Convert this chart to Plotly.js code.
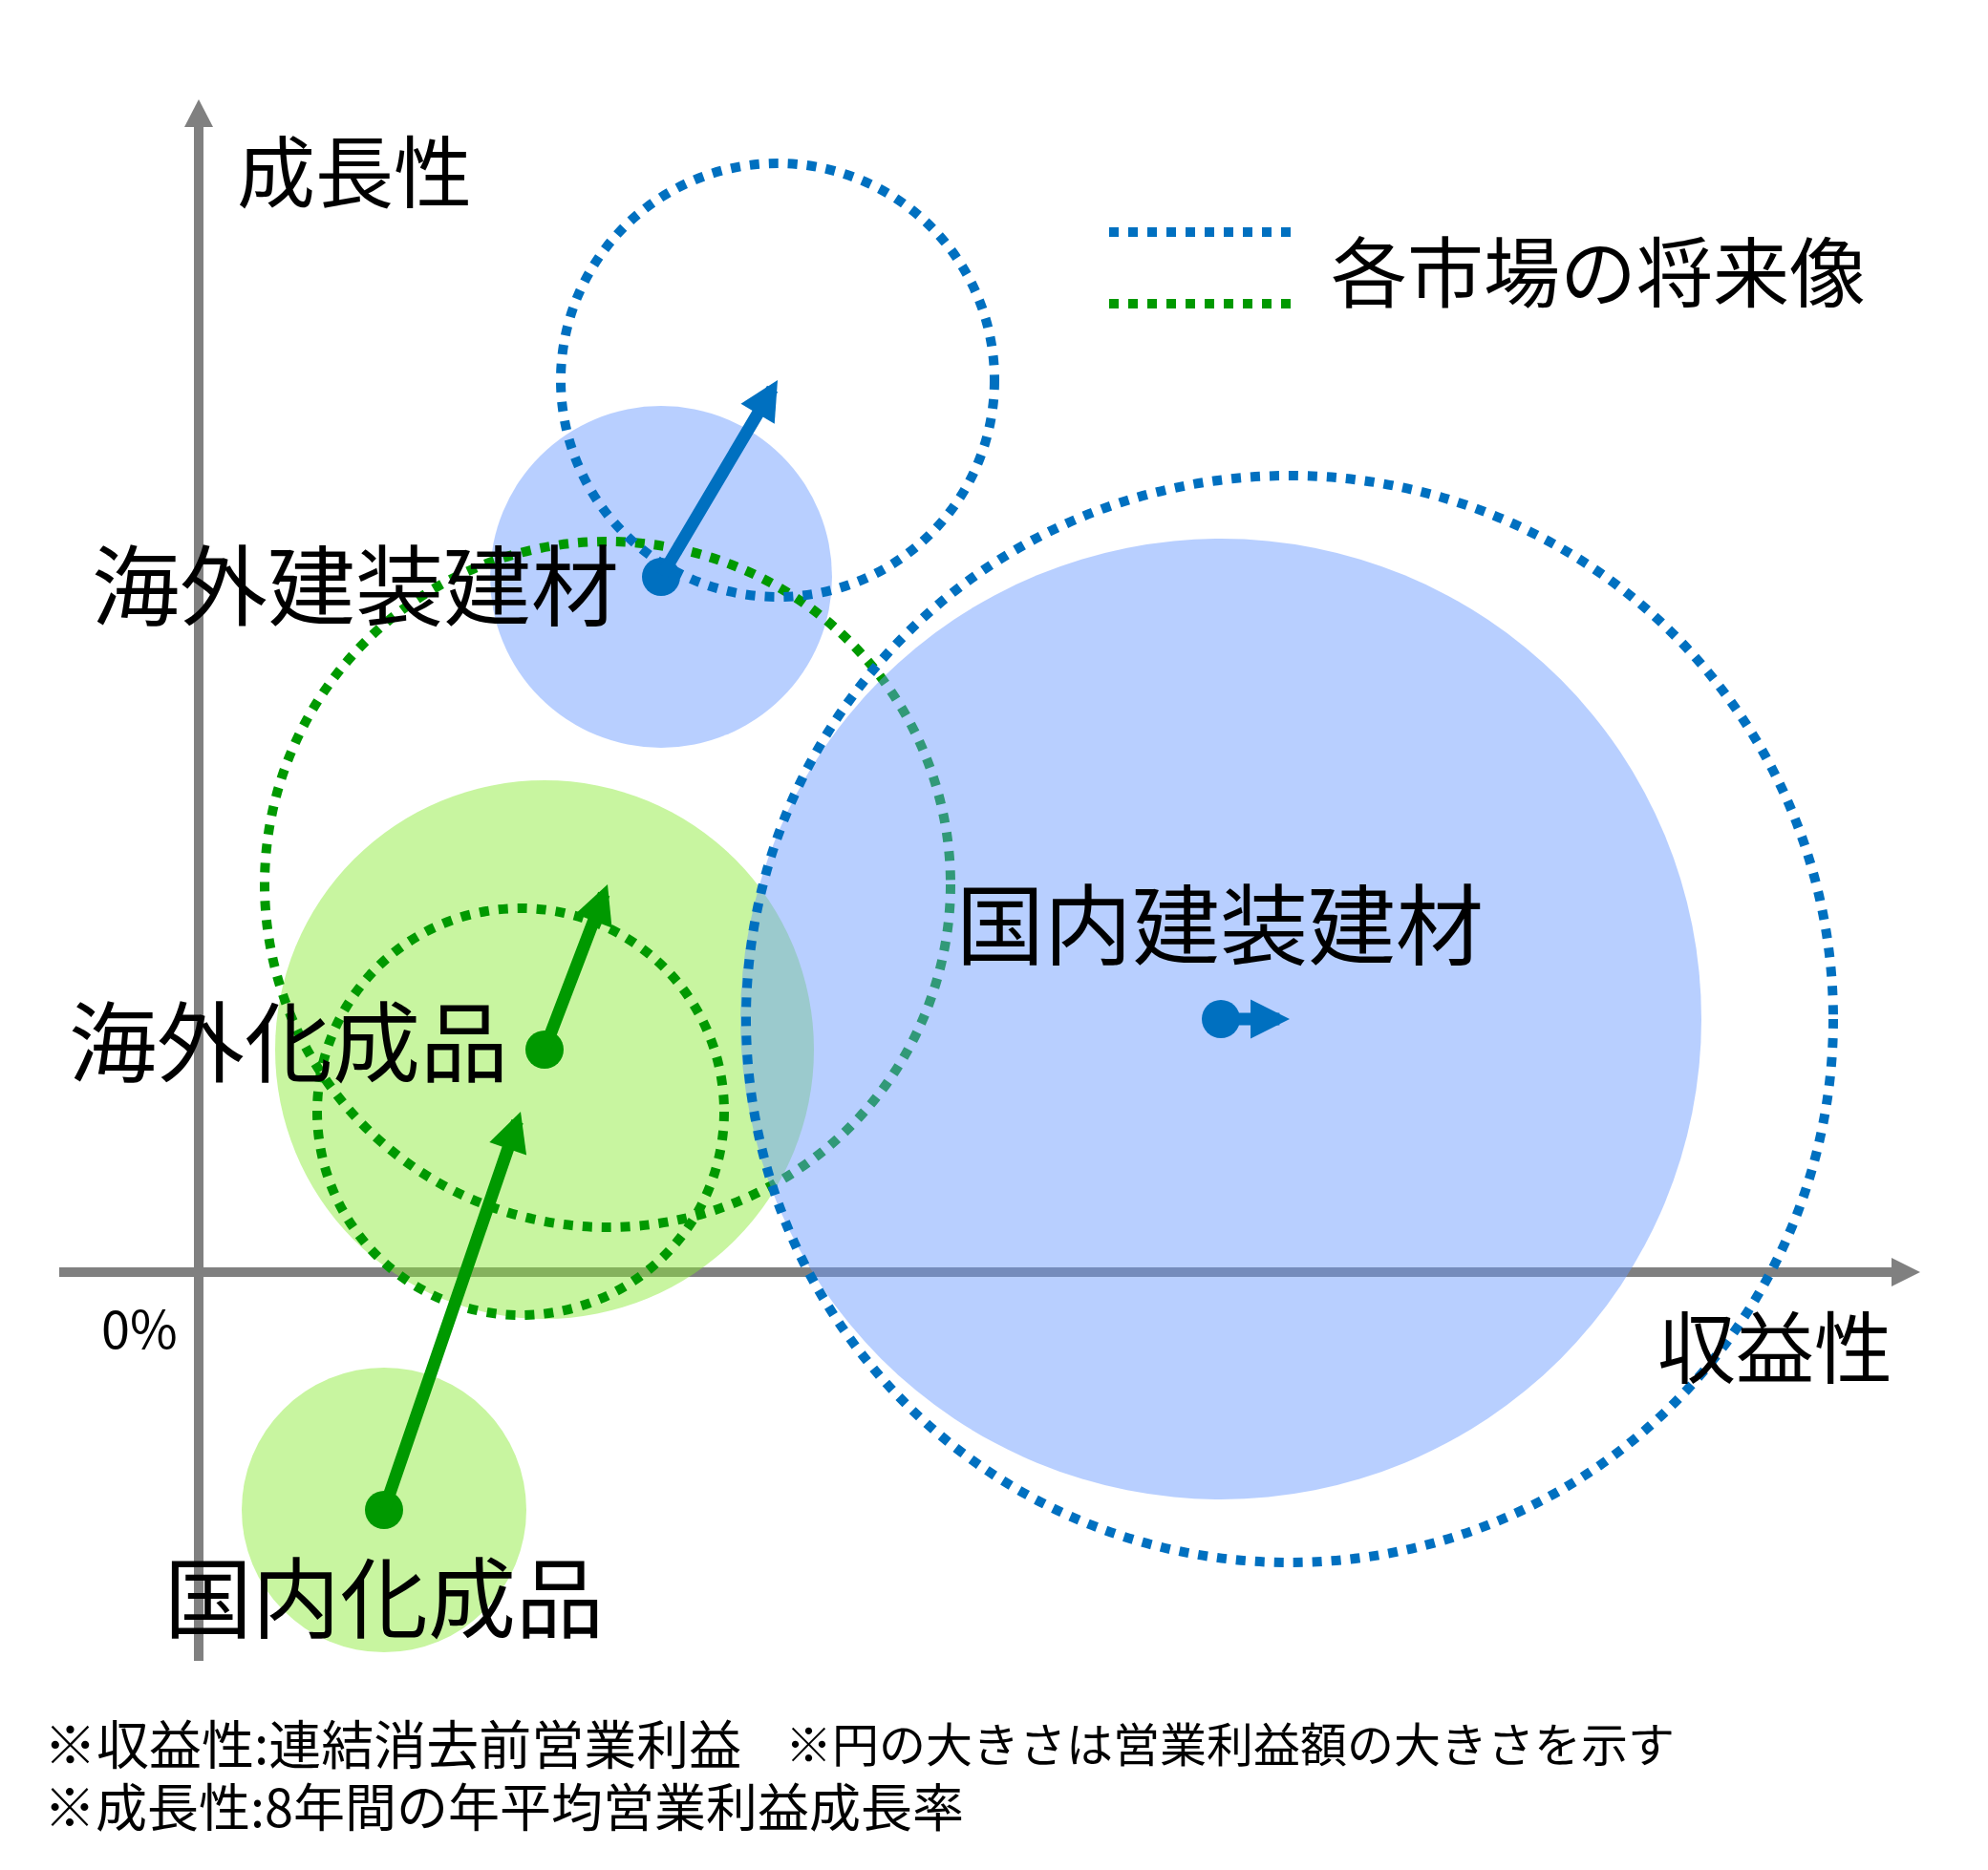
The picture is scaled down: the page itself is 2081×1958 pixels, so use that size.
<!DOCTYPE html>
<html><head><meta charset="utf-8">
<script src="https://cdn.plot.ly/plotly-3.0.1.min.js"></script>
<style>html,body{margin:0;padding:0;background:#fff;} #chart{width:2081px;height:1958px;}</style>
</head><body><div id="chart"></div>
<script>
// ---- data (x: 収益性 index, y: 成長性 %, size: circle radius ∝ 営業利益額) ----
const markets      = ['国内建装建材', '海外建装建材', '海外化成品', '国内化成品'];
const groups       = ['建装建材', '建装建材', '化成品', '化成品'];
const profitNow    = [10.70, 4.84, 3.62, 1.94];
const growthNow    = [2.65, 7.28, 2.33, -2.49];
const sizeNow      = [5.03, 1.79, 2.82, 1.49];
const profitFuture = [11.42, 6.06, 4.28, 3.37];
const growthFuture = [2.65, 9.34, 4.06, 1.68];
const sizeFuture   = [5.69, 2.27, 3.59, 2.13];
const axisTitles   = ['収益性', '成長性'];
const zeroLabel    = '0%';
const legendText   = '各市場の将来像';
const notes = ['※収益性:連結消去前営業利益', '※円の大きさは営業利益額の大きさを示す',
               '※成長性:8年間の年平均営業利益成長率'];

// ---- styles ----
const W = 2081, H = 1958;
const FONT = '"Noto Sans CJK JP", "Noto Sans", sans-serif';
const stroke = {'建装建材': '#0070C0', '化成品': '#009900'};
const fill   = {'建装建材': 'rgba(104,153,255,0.47)', '化成品': 'rgba(138,234,53,0.47)'};
const AX = '#808080';
const px = v => v / W;          // layout helpers (paper coords)
const py = v => 1 - v / H;

// axis extents (data space)
const xAxisFrom = -1.46, xAxisTo = 17.72, xHead = 0.30, headHalf = 0.15;
const yAxisFrom = -4.07, yAxisTo = 11.99, yHead = 0.29;

const shapes = [];
shapes.push({type:'line', xref:'x', yref:'y', x0:xAxisFrom, x1:xAxisTo, y0:0, y1:0, line:{color:AX, width:10}, layer:'below'});
shapes.push({type:'path', xref:'x', yref:'y', path:`M${xAxisTo},${-headHalf} L${xAxisTo+xHead},0 L${xAxisTo},${headHalf} Z`, fillcolor:AX, line:{width:0}, layer:'below'});
shapes.push({type:'line', xref:'x', yref:'y', x0:0, x1:0, y0:yAxisFrom, y1:yAxisTo, line:{color:AX, width:10}, layer:'below'});
shapes.push({type:'path', xref:'x', yref:'y', path:`M${-headHalf},${yAxisTo} L0,${yAxisTo+yHead} L${headHalf},${yAxisTo} Z`, fillcolor:AX, line:{width:0}, layer:'below'});

function circle(i, future) {
  const cx = future ? profitFuture[i] : profitNow[i];
  const cy = future ? growthFuture[i] : growthNow[i];
  const r  = future ? sizeFuture[i] : sizeNow[i];
  const g = groups[i];
  const s = {type:'circle', xref:'x', yref:'y', x0:cx-r, x1:cx+r, y0:cy-r, y1:cy+r, layer:'below'};
  if (future) { s.line = {color:stroke[g], width:10, dash:'dot'}; s.fillcolor = 'rgba(0,0,0,0)'; }
  else { s.line = {width:0}; s.fillcolor = fill[g]; }
  return s;
}
const order = [[2,0],[3,0],[1,0],[2,1],[3,1],[0,0],[0,1],[1,1]];
order.forEach(([i,f]) => shapes.push(circle(i, !!f)));

// legend lines
shapes.push({type:'line', xref:'paper', yref:'paper', x0:px(1161), x1:px(1354), y0:py(243), y1:py(243), line:{color:stroke['建装建材'], width:10, dash:'dot'}});
shapes.push({type:'line', xref:'paper', yref:'paper', x0:px(1161), x1:px(1354), y0:py(318), y1:py(318), line:{color:stroke['化成品'], width:10, dash:'dot'}});

const annotations = [];
markets.forEach((m, i) => {
  annotations.push({x:profitFuture[i], y:growthFuture[i], ax:profitNow[i], ay:growthNow[i],
    xref:'x', yref:'y', axref:'x', ayref:'y', text:'', showarrow:true, arrowhead:2,
    arrowsize:0.63, arrowwidth:13, arrowcolor:stroke[groups[i]], standoff:0, startstandoff:0});
});
// market labels
const labelPos = [
  {x:px(1277), y:py(963), xanchor:'center'},
  {x:px(650),  y:py(607), xanchor:'right'},
  {x:px(534),  y:py(1085), xanchor:'right'},
  {x:px(402),  y:py(1667), xanchor:'center'}
];
markets.forEach((m, i) => {
  annotations.push(Object.assign({xref:'paper', yref:'paper', yanchor:'middle', text:m, showarrow:false,
    font:{family:FONT, size:92, color:'#000'}}, labelPos[i]));
});
const txt = (x, y, xa, t, size) => annotations.push({xref:'paper', yref:'paper', x:px(x), y:py(y), xanchor:xa, yanchor:'middle', text:t, showarrow:false, font:{family:FONT, size:size, color:'#000'}});
txt(1858, 1406, 'center', axisTitles[0], 82);
txt(371, 175, 'center', axisTitles[1], 82);
txt(146, 1388, 'center', zeroLabel, 54);
txt(1391, 280, 'left', legendText, 80);
txt(44, 1823, 'left', notes[0], 55);
txt(820, 1823, 'left', notes[1], 49);
txt(44, 1889, 'left', notes[2], 54);

const dots = {
  type:'scatter', mode:'markers', x:profitNow, y:growthNow, text:markets, hoverinfo:'text',
  marker:{size:40, color:groups.map(g => stroke[g]), line:{width:0}}
};

const layout = {
  width:W, height:H, margin:{l:0, r:0, t:0, b:0},
  paper_bgcolor:'#fff', plot_bgcolor:'rgba(0,0,0,0)', showlegend:false,
  xaxis:{range:[-2.08, 18.73], visible:false, fixedrange:true},
  yaxis:{range:[-6.26, 13.32], visible:false, fixedrange:true},
  shapes, annotations, font:{family:FONT}
};
Plotly.newPlot('chart', [dots], layout, {staticPlot:true, displayModeBar:false});
</script></body></html>
